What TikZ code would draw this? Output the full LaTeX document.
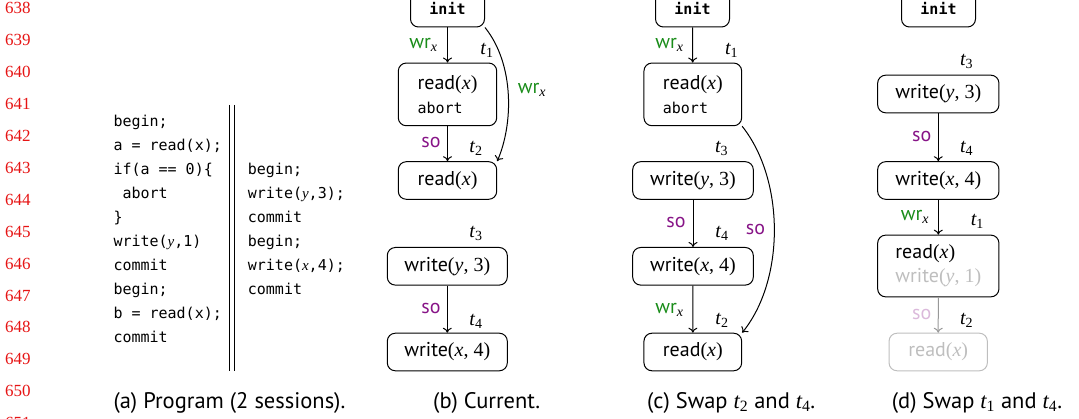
\RequirePackage{fix-cm}
\documentclass[tikz,border=0pt]{standalone}
\usepackage{fontspec}
\setmainfont{Liberation Serif}
\setsansfont{PT Sans}
\setmonofont{DejaVu Sans Mono}
\usetikzlibrary{arrows.meta}
\definecolor{wrgreen}{RGB}{25,140,25}
\definecolor{sopurple}{RGB}{135,20,135}
\definecolor{linered}{RGB}{230,20,20}
\definecolor{faded}{RGB}{190,190,190}
\newcommand\nodefont{\sffamily\fontsize{20}{24}\selectfont}
\newcommand\codefont{\ttfamily\fontsize{15}{24}\selectfont}
\newcommand\iv[1]{{\rmfamily\itshape #1}}
\newcommand\fa[1]{{\rmfamily(#1)}}
\newcommand\tlbl[1]{{\rmfamily\itshape t}\textsubscript{\rmfamily #1}}
\newcommand\wrlbl{\textcolor{wrgreen}{wr}\textsubscript{\iv{x}}}
\newcommand\solbl{\textcolor{sopurple}{so}}
\begin{document}
\begin{tikzpicture}[x=1pt,y=-1pt,
  every node/.style={font=\nodefont},
  box/.style={draw, line width=1pt, rounded corners=8pt, inner sep=0pt, align=left, minimum height=37.6pt},
  fadedbox/.style={box, draw=faded, text=faded},
  conn/.style={line width=1pt, -{To[length=5pt,width=9pt]}},
  fadedconn/.style={conn, draw=faded!80!black},
  lbl/.style={inner sep=0pt},
  lineno/.style={anchor=base west, inner sep=0pt, text=linered, font=\rmfamily\fontsize{17}{20}\selectfont},
  code/.style={anchor=base west, inner sep=0pt, font=\codefont},
  capt/.style={anchor=base west, inner sep=0pt, font=\sffamily\fontsize{22.5}{26}\selectfont}]
\useasboundingbox (0,0) rectangle (1079,419);

% line numbers
\foreach \k in {0,...,13}{
  \pgfmathtruncatemacro\num{638+\k}
  \node[lineno] (ln\k) at (5,{14+31.9*\k}) {\num};
}

% (a) program
\node[code] (c1) at (113.3,126.5) {begin;};
\node[code] (c2) at (113.3,150.5) {a = read(x);};
\node[code] (c3) at (113.3,174.5) {if(a == 0)\{};
\node[code] (c4) at (113.3,198.5) {\hphantom{a}abort};
\node[code] (c5) at (113.3,222.5) {\}};
\node[code] (c6) at (113.3,246.5) {write(\iv{y},1)};
\node[code] (c7) at (113.3,270.5) {commit};
\node[code] (c8) at (113.3,294.5) {begin;};
\node[code] (c9) at (113.3,318.5) {b = read(x);};
\node[code] (c10) at (113.3,342.5) {commit};
\coordinate (sepA1) at (229.3,105);
\coordinate (sepA2) at (229.3,370.7);
\coordinate (sepB1) at (234.3,105);
\coordinate (sepB2) at (234.3,370.7);
\draw[line width=1pt] (sepA1) -- (sepA2);
\draw[line width=1pt] (sepB1) -- (sepB2);
\node[code] (d1) at (247.7,174.5) {begin;};
\node[code] (d2) at (247.7,198.5) {write(\iv{y},3);};
\node[code] (d3) at (247.7,222.5) {commit};
\node[code] (d4) at (247.7,246.5) {begin;};
\node[code] (d5) at (247.7,270.5) {write(\iv{x},4);};
\node[code] (d6) at (247.7,294.5) {commit};
\node[capt] (capA) at (113.3,408.3) {(a) Program (2 sessions).};

% (b) current
\node[box, minimum width=74pt] (bi) at (447.5,8.2) {\codefont\bfseries init};
\node[box, minimum width=98.4pt, minimum height=62.7pt] (b1) at (447.5,94.4) {read\fa{\iv{x}}\\[0pt]{\codefont abort}};
\node[box, minimum width=98.4pt] (b2) at (447.5,180.5) {read\fa{\iv{x}}};
\node[box, minimum width=120pt] (b3) at (447.3,266.3) {write\fa{\iv{y}, 3}};
\node[box, minimum width=120pt] (b4) at (447.3,352) {write\fa{\iv{x}, 4}};
\draw[conn] (bi) -- (b1);
\draw[conn] (b1) -- (b2);
\draw[conn] (b3) -- (b4);
\draw[conn] (bi.south east) .. controls (515,65) and (513,125) .. (b2.north east);
\node[lbl] (bl1) at (423.5,45) {\wrlbl};
\node[lbl] (bt1) at (487,50) {\tlbl{1}};
\node[lbl] (bl2) at (431,143) {\solbl};
\node[lbl] (bt2) at (476,148) {\tlbl{2}};
\node[lbl] (bl3) at (532,90) {\wrlbl};
\node[lbl] (bt3) at (476,233) {\tlbl{3}};
\node[lbl] (bl4) at (431,309) {\solbl};
\node[lbl] (bt4) at (476,321) {\tlbl{4}};
\node[capt] (capB) at (433,408.3) {(b) Current.};

% (c) swap t2 and t4
\node[box, minimum width=74pt] (ci) at (692.5,8.2) {\codefont\bfseries init};
\node[box, minimum width=97.7pt, minimum height=62.7pt] (c1n) at (692.8,94.4) {read\fa{\iv{x}}\\[0pt]{\codefont abort}};
\node[box, minimum width=120.6pt] (c3n) at (693,180.5) {write\fa{\iv{y}, 3}};
\node[box, minimum width=120.6pt] (c4n) at (693,266.3) {write\fa{\iv{x}, 4}};
\node[box, minimum width=97.7pt] (c2n) at (692.8,352) {read\fa{\iv{x}}};
\draw[conn] (ci) -- (c1n);
\draw[conn] (c3n) -- (c4n);
\draw[conn] (c4n) -- (c2n);
\draw[conn] (c1n.south east) .. controls (785,180) and (785,280) .. (c2n.north east);
\node[lbl] (cl1) at (669.5,45) {\wrlbl};
\node[lbl] (ct1) at (731.7,50) {\tlbl{1}};
\node[lbl] (ct3) at (721.7,148) {\tlbl{3}};
\node[lbl] (cl2) at (676,223) {\solbl};
\node[lbl] (ct4) at (722,233) {\tlbl{4}};
\node[lbl] (cl3) at (755.5,230) {\solbl};
\node[lbl] (cl4) at (669.5,310) {\wrlbl};
\node[lbl] (ct2) at (722,320) {\tlbl{2}};
\node[capt] (capC) at (647,408.3) {(c) Swap \tlbl{2} and \tlbl{4}.};

% (d) swap t1 and t4
\node[box, minimum width=74pt] (di) at (938.5,8.2) {\codefont\bfseries init};
\node[box, minimum width=121.3pt] (d3n) at (938.3,94) {write\fa{\iv{y}, 3}};
\node[box, minimum width=121.3pt] (d4n) at (938.3,180.5) {write\fa{\iv{x}, 4}};
\node[box, minimum width=121.3pt, minimum height=61.7pt] (d1n) at (938.3,266) {read\fa{\iv{x}}\\[0pt]\textcolor{faded}{write\fa{\iv{y}, 1}}};
\node[fadedbox, minimum width=98.3pt] (d2n) at (938.2,352) {read\fa{\iv{x}}};
\draw[conn] (d3n) -- (d4n);
\draw[conn] (d4n) -- (d1n);
\draw[fadedconn] (d1n) -- (d2n);
\node[lbl] (dt3) at (966.7,61.7) {\tlbl{3}};
\node[lbl] (dl1) at (921.7,136.7) {\solbl};
\node[lbl] (dt4) at (966.7,148) {\tlbl{4}};
\node[lbl] (dl2) at (915,216.7) {\wrlbl};
\node[lbl] (dt1) at (977.3,221.7) {\tlbl{1}};
\node[lbl] (dl3) at (921.7,315) {\textcolor{sopurple!30}{so}};
\node[lbl] (dt2) at (966.7,320) {\tlbl{2}};
\node[capt] (capD) at (891.7,408.3) {(d) Swap \tlbl{1} and \tlbl{4}.};
\end{tikzpicture}
\end{document}
